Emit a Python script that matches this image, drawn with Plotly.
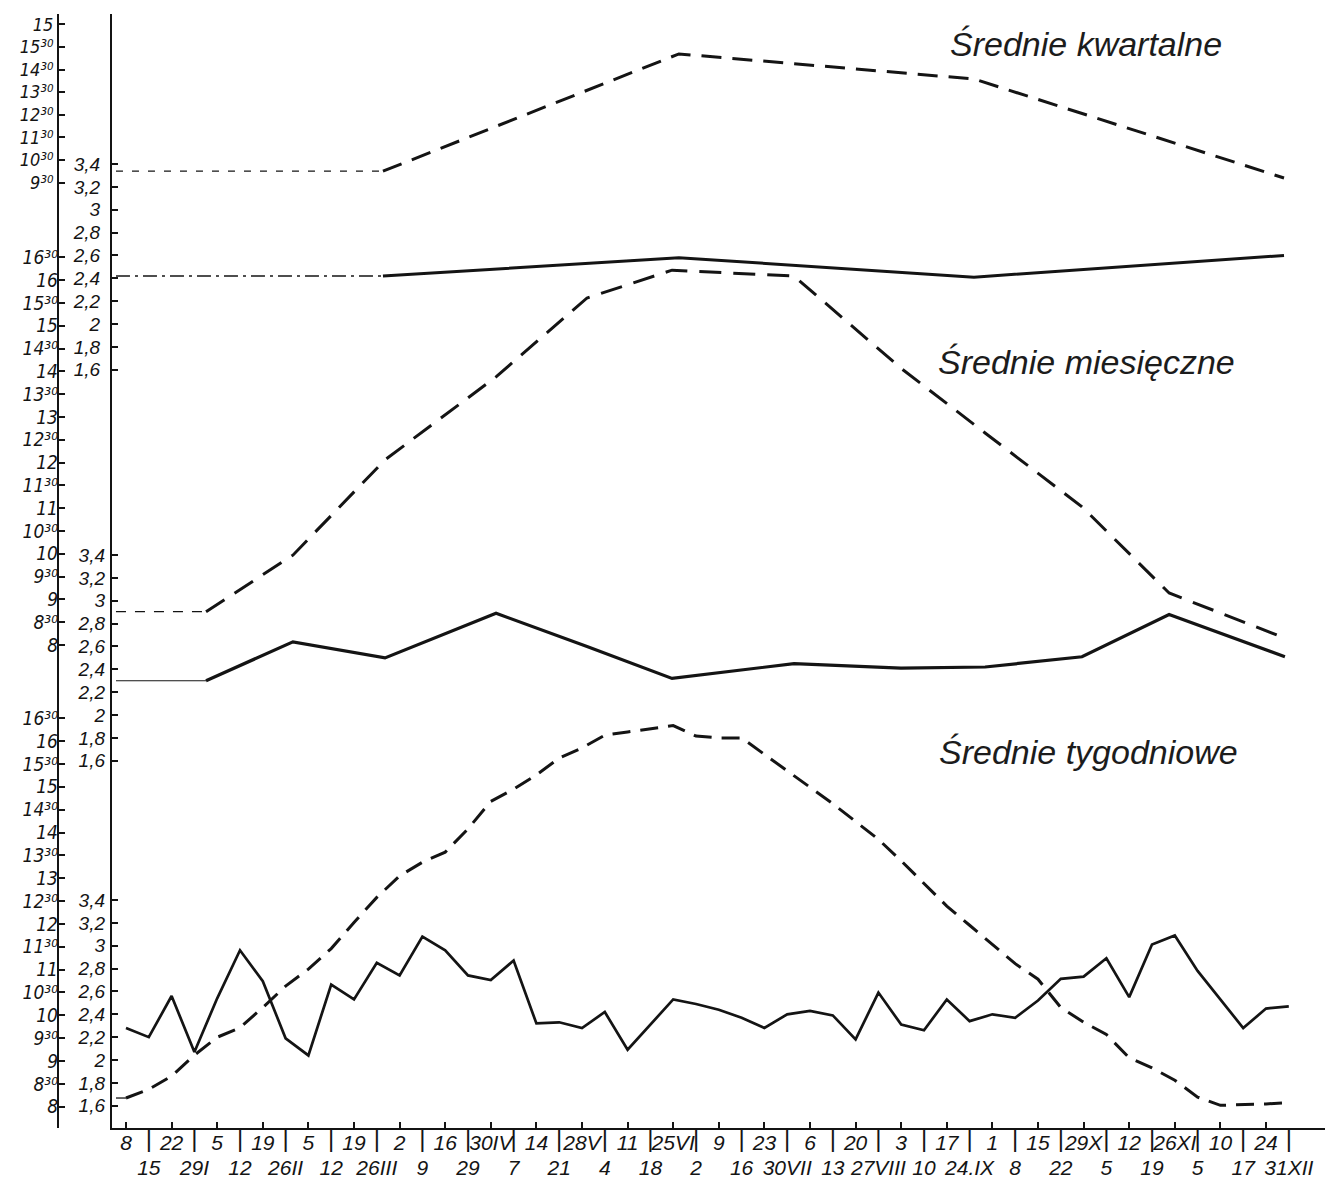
import plotly.graph_objects as go

# ---------------- data ----------------
weeks = list(range(52))
week_top_labels = ["8", "22", "5", "19", "5", "19", "2", "16", "30IV", "14", "28V", "11", "25VI",
                   "9", "23", "6", "20", "3", "17", "1", "15", "29X", "12", "26XI", "10", "24"]
week_bottom_labels = ["15", "29I", "12", "26II", "12", "26III", "9", "29", "7", "21", "4", "18", "2",
                      "16", "30VII", "13", "27VIII", "10", "24.IX", "8", "22", "5", "19", "5", "17", "31XII"]

weekly_value = [2.28, 2.20, 2.56, 2.07, 2.54, 2.96, 2.69, 2.19, 2.04, 2.66, 2.53, 2.85, 2.74,
                3.08, 2.96, 2.74, 2.70, 2.87, 2.32, 2.33, 2.28, 2.42, 2.09, 2.31, 2.53, 2.49,
                2.44, 2.37, 2.28, 2.40, 2.43, 2.39, 2.18, 2.59, 2.31, 2.26, 2.53, 2.34, 2.40,
                2.37, 2.52, 2.71, 2.73, 2.89, 2.55, 3.01, 3.09, 2.78, 2.53, 2.28, 2.45, 2.47]
weekly_hours = [8.19, 8.38, 8.67, 9.13, 9.52, 9.73, 10.17, 10.64, 11.01, 11.46, 12.03, 12.58, 13.05,
                13.35, 13.57, 14.08, 14.68, 14.95, 15.26, 15.63, 15.85, 16.13, 16.20, 16.27, 16.34,
                16.11, 16.07, 16.07, 15.70, 15.35, 14.99, 14.63, 14.24, 13.85, 13.38, 12.88, 12.39,
                11.97, 11.55, 11.13, 10.79, 10.17, 9.85, 9.58, 9.07, 8.85, 8.58, 8.21, 8.03, 8.04,
                8.06, 8.09]

month_pos = [3.51, 7.32, 11.36, 16.23, 20.22, 23.95, 29.30, 33.99, 37.68, 41.93, 45.75, 50.83]
monthly_value = [2.30, 2.64, 2.50, 2.89, 2.60, 2.32, 2.45, 2.41, 2.42, 2.51, 2.88, 2.51]
monthly_hours = [8.73, 9.97, 12.06, 13.88, 15.61, 16.22, 16.09, 14.07, 12.65, 11.03, 9.14, 8.15]

quarter_pos = [11.27, 24.25, 37.19, 50.79]
quarterly_value = [2.42, 2.58, 2.41, 2.60]
quarterly_hours = [10.00, 15.19, 14.08, 9.70]

lead_start = -0.44

value_ticks = [1.6, 1.8, 2.0, 2.2, 2.4, 2.6, 2.8, 3.0, 3.2, 3.4]
value_text = ["1,6", "1,8", "2", "2,2", "2,4", "2,6", "2,8", "3", "3,2", "3,4"]
hours_q_ticks = [9.5, 10.5, 11.5, 12.5, 13.5, 14.5, 15.5, 16.5]
hours_q_text = ["9³⁰", "10³⁰", "11³⁰", "12³⁰", "13³⁰", "14³⁰", "15³⁰", "15"]
hours_ticks = [8 + 0.5 * i for i in range(18)]
hours_text = [(str(int(h)) if h == int(h) else str(int(h)) + "³⁰") for h in hours_ticks]

# ---------------- layout geometry (screen pixels, page body has an 8px margin) ----------------
OFF = 8
SCR_W, SCR_H = 1333, 1188
W, H = SCR_W - OFF, SCR_H - OFF
LEFT_AXIS, VALUE_AXIS, TOP_PX, BOT_PX, RIGHT_PX = 58, 112, 14, 1128, 1331
ML, MT = LEFT_AXIS - OFF, TOP_PX - OFF
MB = SCR_H - BOT_PX
MR = SCR_W - RIGHT_PX
PW, PH = W - ML - MR, H - MT - MB
W0_PX, PX_PER_WEEK = 126, 22.8
xdom0 = (VALUE_AXIS - LEFT_AXIS) / PW
xrange_ = [(VALUE_AXIS - W0_PX) / PX_PER_WEEK, (RIGHT_PX - W0_PX) / PX_PER_WEEK]


def yr(v_ref, px_ref, ppu):
    return [v_ref - (BOT_PX - px_ref) / ppu, v_ref + (px_ref - TOP_PX) / ppu]


INK = "#141414"
FAM = "DejaVu Sans Condensed, DejaVu Sans, sans-serif"
XFAM = "Liberation Sans, Arial, sans-serif"
valfont = dict(family=XFAM, size=19, color=INK, style="italic")
hourfont = dict(family=FAM, size=19, color=INK, style="italic")
hourfont_q = dict(family=FAM, size=18, color=INK, style="italic")
xfont = dict(family=XFAM, size=21, color=INK, style="italic")
sepfont = dict(family=XFAM, size=24, color=INK)
DASH = "20px,11px"

fig = go.Figure()


def line(x, y, ax, width, dash="solid"):
    fig.add_trace(go.Scatter(x=x, y=y, yaxis=ax, mode="lines", showlegend=False, hoverinfo="skip",
                             line=dict(color=INK, width=width, dash=dash, shape="linear")))


# quarterly
line([lead_start, quarter_pos[0]], [quarterly_hours[0]] * 2, "y4", 1.2, "7px,9px")
line([lead_start, quarter_pos[0]], [quarterly_value[0]] * 2, "y", 1.3, "14px,5px,3px,5px")
line(quarter_pos, quarterly_hours, "y4", 3, DASH)
line(quarter_pos, quarterly_value, "y", 3)
# monthly
line([lead_start, month_pos[0]], [monthly_hours[0]] * 2, "y5", 1.2, "10px,9px")
line([lead_start, month_pos[0]], [monthly_value[0]] * 2, "y2", 1.2)
line(month_pos, monthly_hours, "y5", 3, "22px,12px")
line(month_pos, monthly_value, "y2", 3.2)
# weekly
line([lead_start, 0], [weekly_hours[0]] * 2, "y6", 1.3)
line(weeks, weekly_hours, "y6", 3, "18px,10px")
line(weeks, weekly_value, "y3", 2.7)

common_y = dict(domain=[0, 1], showgrid=False, zeroline=False, ticks="inside", ticklen=6,
                tickwidth=1.5, tickcolor=INK, tickmode="array",
                linecolor=INK, linewidth=2, automargin=False, fixedrange=True)
common_x = dict(domain=[xdom0, 1], range=xrange_, showgrid=False, zeroline=False,
                anchor="y", side="bottom", tickmode="array", automargin=False, fixedrange=True)

fig.update_layout(
    width=W, height=H, template="none",
    margin=dict(l=ML, r=MR, t=MT, b=MB, pad=0),
    paper_bgcolor="white", plot_bgcolor="white",
    showlegend=False,
    # top row of dates (even weeks) with the axis line and small ticks
    xaxis=dict(common_x, showline=True, linecolor=INK, linewidth=2,
               ticks="inside", ticklen=6, tickwidth=1.5, tickcolor=INK,
               tickvals=weeks[0::2], ticktext=week_top_labels, tickfont=xfont,
               ticklabelstandoff=-5),
    # separators between the top-row dates (odd weeks)
    xaxis2=dict(common_x, overlaying="x", showline=False, ticks="",
                tickvals=weeks[1::2], ticktext=["|"] * len(week_bottom_labels), tickfont=sepfont,
                ticklabelstandoff=-6),
    # bottom row of dates (odd weeks)
    xaxis3=dict(common_x, overlaying="x", showline=False, ticks="",
                tickvals=weeks[1::2], ticktext=week_bottom_labels, tickfont=xfont,
                ticklabelstandoff=25),
    yaxis=dict(common_y, range=yr(3.4, 164, 114.3), anchor="x", showline=True,
               tickvals=value_ticks, ticktext=value_text, tickfont=valfont, ticklabelstandoff=6),
    yaxis2=dict(common_y, range=yr(3.4, 555, 114.3), anchor="x", overlaying="y", showline=False,
                tickvals=value_ticks, ticktext=value_text, tickfont=valfont, ticklabelstandoff=6),
    yaxis3=dict(common_y, range=yr(3.4, 900, 114.3), anchor="x", overlaying="y", showline=False,
                tickvals=value_ticks, ticktext=value_text, tickfont=valfont, ticklabelstandoff=6),
    yaxis4=dict(common_y, range=yr(9.5, 182.5, 22.6), anchor="free", position=0, overlaying="y",
                showline=True, tickvals=hours_q_ticks, ticktext=hours_q_text, tickfont=hourfont_q),
    yaxis5=dict(common_y, range=yr(8.0, 645, 45.6), anchor="free", position=0, overlaying="y",
                showline=False, tickvals=hours_ticks, ticktext=hours_text, tickfont=hourfont),
    yaxis6=dict(common_y, range=yr(8.0, 1106.7, 45.7), anchor="free", position=0, overlaying="y",
                showline=False, tickvals=hours_ticks, ticktext=hours_text, tickfont=hourfont),
)

# empty traces that keep the extra x axes attached
for xa in ("x2", "x3"):
    fig.add_trace(go.Scatter(x=[0], y=[None], xaxis=xa, yaxis="y", mode="lines",
                             showlegend=False, hoverinfo="skip"))

titlefont = dict(family=XFAM, size=34, color="#1c1c1c", style="italic")


def px_to_paper(px, py):
    return (px - LEFT_AXIS) / PW, (BOT_PX - py) / PH


for text, cx, cy in [("Średnie kwartalne", 1086, 44),
                     ("Średnie miesięczne", 1086, 362),
                     ("Średnie tygodniowe", 1088, 752)]:
    ax_, ay_ = px_to_paper(cx, cy)
    fig.add_annotation(text=text, x=ax_, y=ay_, xref="paper", yref="paper",
                       showarrow=False, font=titlefont, xanchor="center", yanchor="middle")

fig.write_html("out.html")
